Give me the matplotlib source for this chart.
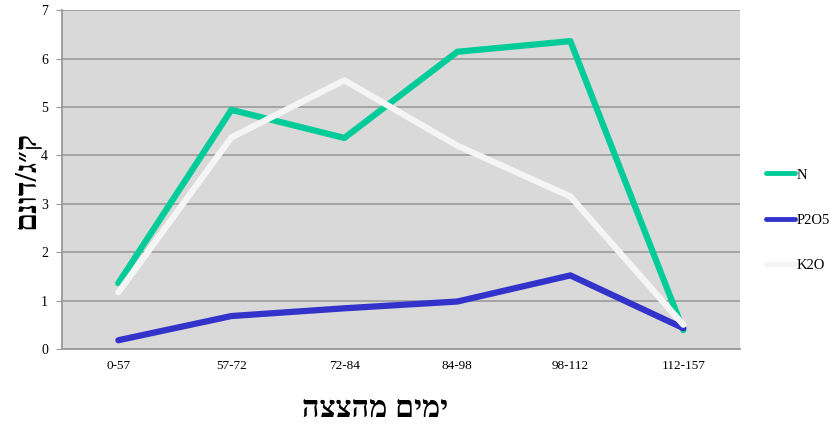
import matplotlib.pyplot as plt
import numpy as np

# data
categories = ['0-57', '57-72', '72-84', '84-98', '98-112', '112-157']
n_vals = [1.36, 4.94, 4.36, 6.14, 6.36, 0.39]
p2o5_vals = [0.18, 0.68, 0.84, 0.98, 1.52, 0.43]
k2o_vals = [1.17, 4.37, 5.55, 4.20, 3.15, 0.50]

ylabel_text = 'ק״ג/דונם'
xlabel_text = 'ימים מהצצה'

plt.rcParams['font.family'] = ['Liberation Serif', 'DejaVu Serif', 'DejaVu Sans']

fig = plt.figure(figsize=(8.36, 4.24), dpi=100)
ax = fig.add_axes([0.074, 0.177, 0.811, 0.799])
ax.set_facecolor('#d9d9d9')

x = np.arange(len(categories))
ax.plot(x, n_vals, color='#00cc99', linewidth=4.5, label='N', solid_capstyle='round')
ax.plot(x, p2o5_vals, color='#3333cc', linewidth=4.5, label='P2O5', solid_capstyle='round')
ax.plot(x, k2o_vals, color='#f5f5f5', linewidth=4.5, label='K2O', solid_capstyle='round')

ax.set_xlim(-0.5, len(categories) - 0.5)
ax.set_ylim(0, 7)
ax.set_xticks(x)
ax.set_xticklabels(categories, fontsize=9.5)
ax.set_yticks(np.arange(0, 8, 1))
ax.tick_params(axis='y', labelsize=10, length=4, color='#999999', pad=6)
ax.tick_params(axis='x', length=0, pad=8)

ax.yaxis.grid(True, color='#a0a0a0', linewidth=1.3)
ax.set_axisbelow(True)
for s in ['top', 'right']:
    ax.spines[s].set_visible(False)
ax.spines['left'].set_color('#999999')
ax.spines['bottom'].set_color('#999999')
ax.spines['left'].set_linewidth(1.3)
ax.spines['bottom'].set_linewidth(1.3)

# hebrew is drawn left to right, so reverse it for display
ax.set_ylabel(ylabel_text[::-1], fontsize=22, fontweight='bold',
              family=['Liberation Serif', 'DejaVu Sans'])
ax.yaxis.set_label_coords(-0.03, 0.5)
ax.set_xlabel(xlabel_text[::-1], fontsize=22, fontweight='bold',
              family=['Liberation Serif', 'DejaVu Sans'])
ax.xaxis.set_label_coords(0.462, -0.135)

leg = ax.legend(loc='center left', bbox_to_anchor=(1.03, 0.38), frameon=False,
                fontsize=10.5, handlelength=2.0, handletextpad=0.1,
                labelspacing=2.2, borderaxespad=0)
for h in leg.get_lines():
    h.set_linewidth(3.5)

plt.savefig('out.png', dpi=100)
